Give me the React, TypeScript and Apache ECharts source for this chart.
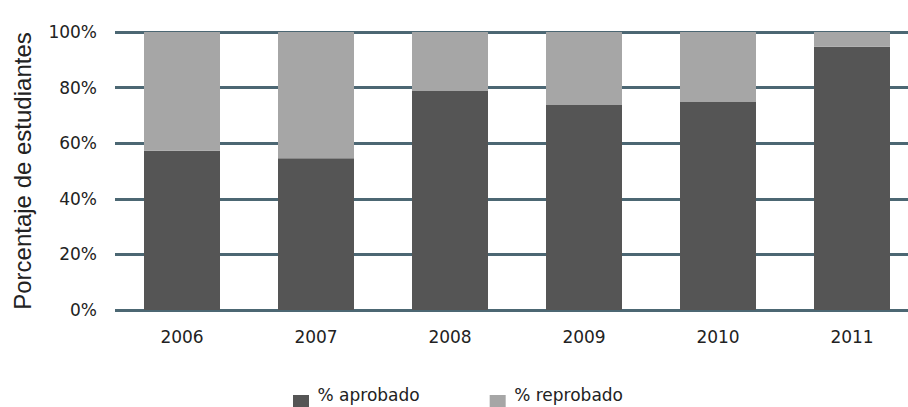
import React, { useEffect, useRef } from "react";
import * as echarts from "echarts";

const years = ["2006", "2007", "2008", "2009", "2010", "2011"];
const aprobado = [57.3, 54.6, 78.8, 73.7, 74.8, 94.7];
const reprobado = [42.7, 45.4, 21.2, 26.3, 25.2, 5.3];
const seriesNames = ["% aprobado", "% reprobado"];
const yTicks = [0, 20, 40, 60, 80, 100];

export default function App() {
  const ref = useRef<HTMLDivElement>(null);
  useEffect(() => {
    if (!ref.current) return;
    const chart = echarts.init(ref.current, undefined, { renderer: "svg" });
    const font = "DejaVu Sans";
    const legendIcon = "path://M0,0L16,0L0,0ZM0,16L16,16L16,32L0,32Z";
    chart.setOption({
      animation: false,
      backgroundColor: "#ffffff",
      textStyle: { fontFamily: font },
      grid: {
        left: 115,
        top: 32,
        width: 804,
        bottom: 97,
        containLabel: false,
        outerBoundsMode: "none",
      },
      legend: {
        left: 293,
        top: 379,
        padding: 0,
        itemGap: 70,
        itemWidth: 17,
        itemHeight: 32,
        icon: legendIcon,
        textStyle: { fontFamily: font, fontSize: 17, color: "#222", padding: [0, 0, 0, 3] },
        data: seriesNames,
      },
      xAxis: {
        type: "category",
        data: years,
        axisLine: { show: false },
        axisTick: { show: false },
        axisLabel: { fontFamily: font, fontSize: 17, color: "#222", margin: 18 },
      },
      yAxis: {
        type: "value",
        min: yTicks[0],
        max: yTicks[yTicks.length - 1],
        interval: 20,
        name: "Porcentaje de estudiantes",
        nameLocation: "middle",
        nameRotate: 90,
        nameGap: 81,
        nameTextStyle: { fontFamily: "Liberation Sans", fontSize: 24, color: "#222" },
        axisLine: { show: false },
        axisTick: { show: false },
        axisLabel: {
          fontFamily: font,
          fontSize: 17,
          color: "#222",
          margin: 18,
          formatter: (v: number) => v + "%",
        },
        splitLine: { show: true, lineStyle: { color: "#4c6773", width: 3 } },
      },
      series: [
        {
          name: seriesNames[0],
          type: "bar",
          stack: "total",
          barWidth: 76,
          data: aprobado,
          itemStyle: { color: "#555555" },
        },
        {
          name: seriesNames[1],
          type: "bar",
          stack: "total",
          barWidth: 76,
          data: reprobado,
          itemStyle: { color: "#a6a6a6" },
        },
      ],
    });
    return () => chart.dispose();
  }, []);
  return (
    <div
      ref={ref}
      style={{ position: "absolute", left: 0, top: 0, width: 908, height: 407 }}
    />
  );
}
